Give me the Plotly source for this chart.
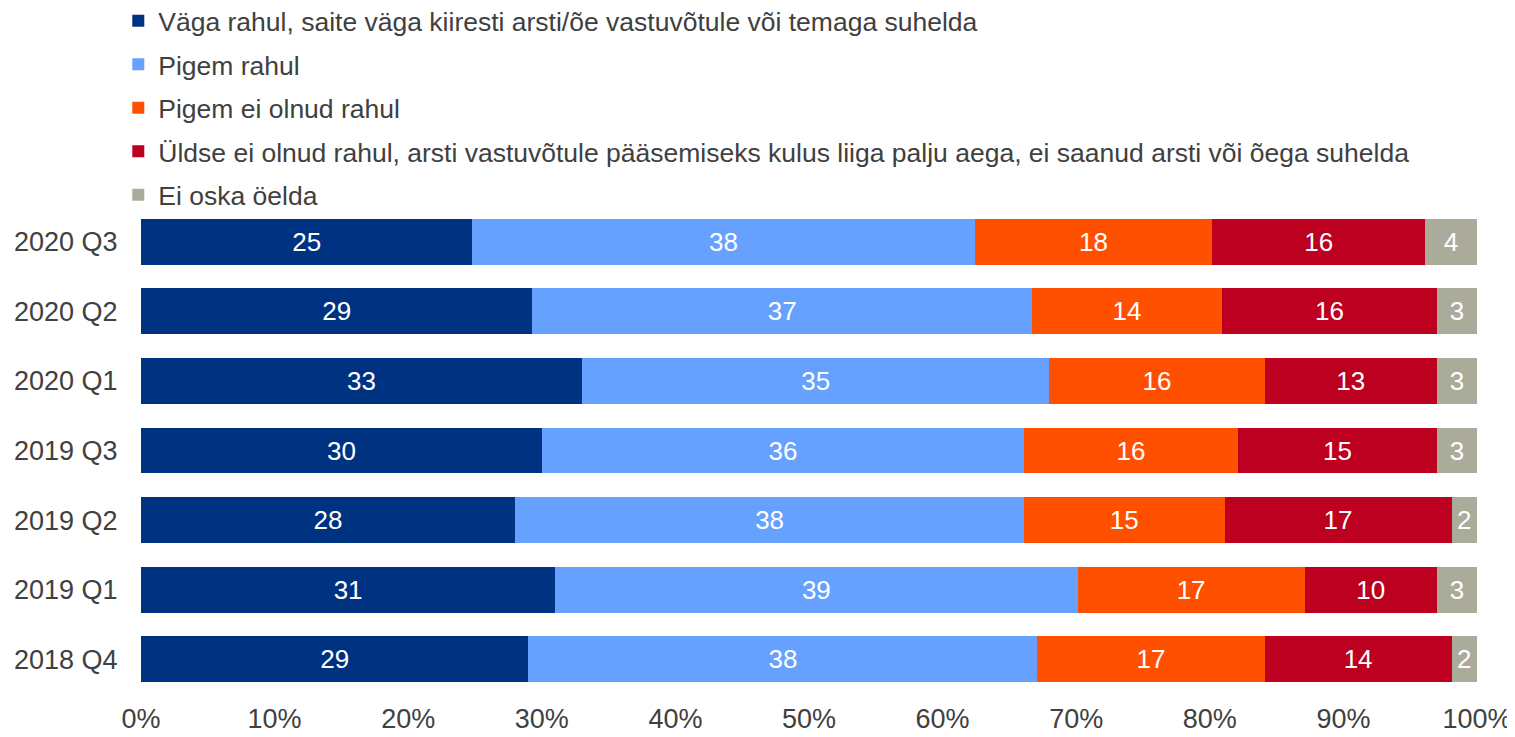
import plotly.graph_objects as go

# quarters, top to bottom
quarters = ['2020 Q3', '2020 Q2', '2020 Q1', '2019 Q3', '2019 Q2', '2019 Q1', '2018 Q4']

series_names = [
    'Väga rahul, saite väga kiiresti arsti/õe vastuvõtule või temaga suhelda',
    'Pigem rahul',
    'Pigem ei olnud rahul',
    'Üldse ei olnud rahul, arsti vastuvõtule pääsemiseks kulus liiga palju aega, ei saanud arsti või õega suhelda',
    'Ei oska öelda',
]

vaga_rahul = [24.8, 29.3, 33.0, 30.0, 28.0, 31.0, 29.0]
pigem_rahul = [37.6, 37.4, 35.0, 36.1, 38.1, 39.1, 38.1]
pigem_ei = [17.8, 14.2, 16.1, 16.0, 15.0, 17.0, 17.0]
uldse_ei = [15.9, 16.1, 12.9, 14.9, 17.0, 9.9, 14.0]
ei_oska = [3.9, 3.0, 3.0, 3.0, 1.9, 3.0, 1.9]

colors = ['#003282', '#66a1ff', '#ff5000', '#bd0020', '#abab9b']

font_family = 'Liberation Sans, Arial, sans-serif'

fig = go.Figure()
for i, (name, vals) in enumerate(zip(series_names, [vaga_rahul, pigem_rahul, pigem_ei, uldse_ei, ei_oska])):
    fig.add_trace(go.Bar(
        y=quarters, x=vals, name=name, orientation='h',
        marker=dict(color=colors[i], line=dict(width=0)),
        text=vals, texttemplate='%{x:.0f}', textposition='inside',
        insidetextanchor='middle', textangle=0,
        textfont=dict(color='white', size=26, family=font_family),
        legendgroup=f'g{i}',
    ))

# page body adds an 8px margin, so the figure is a bit smaller than the window
fig.update_layout(
    barmode='stack', bargap=0.34,
    width=1507, height=729,
    margin=dict(l=133, r=38, t=199, b=43, autoexpand=False),
    paper_bgcolor='white', plot_bgcolor='white',
    font=dict(family=font_family, size=27, color='#404040'),
    uniformtext=dict(minsize=26, mode='show'),
    legend=dict(
        x=-0.017, xanchor='left', y=1.431, yanchor='top',
        traceorder='grouped', tracegroupgap=6,
        font=dict(size=26.5, color='#404040'),
        itemwidth=30, bgcolor='rgba(0,0,0,0)',
    ),
)
fig.update_xaxes(
    range=[0, 100], dtick=10, ticksuffix='%', showgrid=False, zeroline=False,
    showline=False, ticks='outside', ticklen=1, tickcolor='rgba(0,0,0,0)',
)
fig.update_yaxes(
    autorange='reversed', showgrid=False, showline=False,
    ticks='outside', ticklen=17, tickcolor='rgba(0,0,0,0)',
)

fig.write_html('out.html')
